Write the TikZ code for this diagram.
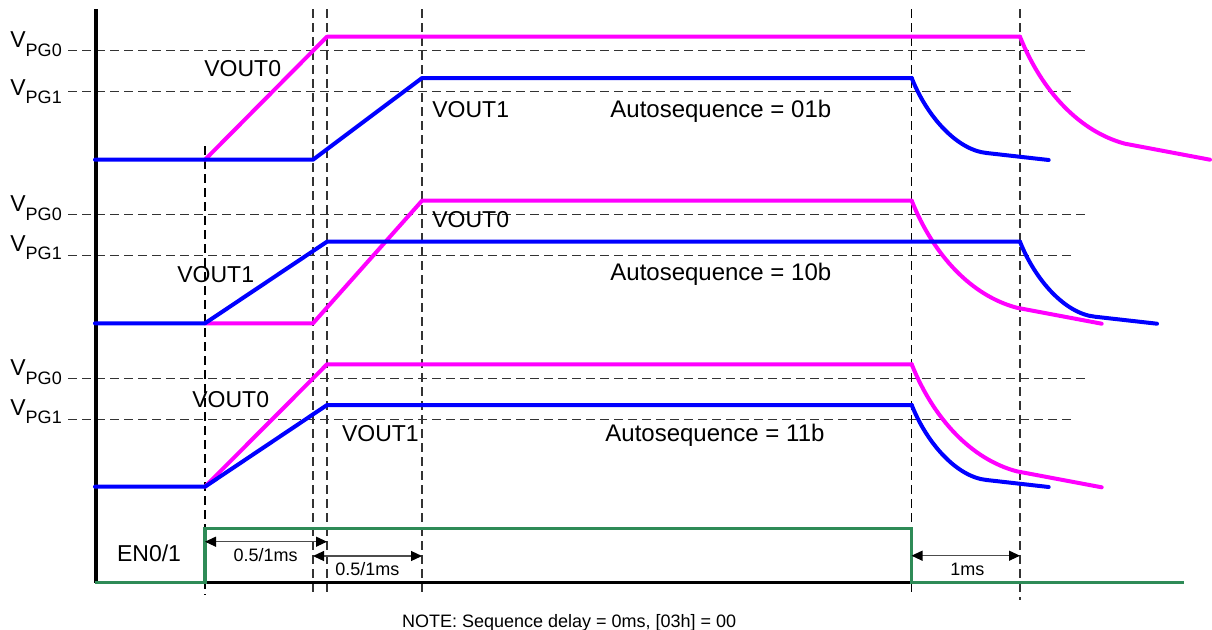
\documentclass[tikz,border=0pt]{standalone}
\usepackage{fontspec}
\setmainfont{Liberation Sans}
\usetikzlibrary{arrows.meta}
\definecolor{voutzero}{RGB}{255,0,255}
\definecolor{voutone}{RGB}{0,0,255}
\definecolor{engreen}{RGB}{46,139,87}
\newcommand{\vpg}[1]{V\raisebox{-4.2pt}{\fontsize{9}{10}\selectfont PG#1}}
\tikzset{
    seqlabel/.style={anchor=base west, inner sep=0pt, font=\fontsize{11.5}{13}\selectfont},
    seqmode/.style={anchor=base west, inner sep=0pt, font=\fontsize{12}{14}\selectfont},
    seqsmall/.style={anchor=base west, inner sep=0pt, font=\fontsize{9}{10}\selectfont},
    seqgrid/.style={black!80, line width=0.55pt, dash pattern=on 4.5pt off 2.5pt},
    seqmark/.style={black, line width=0.55pt, dash pattern=on 4.5pt off 2.5pt},
    traceA/.style={voutzero, line width=2pt, line join=round, line cap=round},
    traceB/.style={voutone, line width=2pt, line join=round, line cap=round},
    enline/.style={engreen, line width=1.6pt},
    dimarrow/.style={{Triangle[length=5.5pt,width=5pt,color=black]}-{Triangle[length=5.5pt,width=5pt,color=black]}, black!70, line width=0.6pt},
    longfall/.pic={\draw[pic actions] (0,0) .. controls (22,55) and (60,95) .. (105,107) -- (190,123);},
    shortfall/.pic={\draw[pic actions] (0,0) .. controls (15,38) and (45,72) .. (75,75) -- (137,82);}
}

\begin{document}
\begin{tikzpicture}[x=0.5pt, y=-0.5pt]
    \useasboundingbox (0,0) rectangle (1212,629);

    % power-good thresholds, one pair per panel
    \foreach \dy/\yb in {0/95, 164/251.5, 328/415} {
        \draw[seqgrid] (68,50.5+\dy) -- (1088,50.5+\dy);
        \draw[seqgrid] (68,91.3+\dy) -- (1075,91.3+\dy);
        \node[seqlabel] (pgzero-\dy) at (10,47.8+\dy) {\vpg{0}};
        \node[seqlabel] (pgone-\dy) at (10,\yb) {\vpg{1}};
    }

    % time marks
    \draw[seqmark] (205,146) -- (205,595);
    \foreach \t in {313,327,422}
        \draw[seqgrid] (\t,9) -- (\t,596);
    \draw[seqmark] (911.5,9) -- (911.5,596);
    \draw[seqgrid] (1020,9) -- (1020,600);

    \draw[line width=1.8pt] (95.7,9) -- (95.7,583);
    \draw[line width=1.6pt] (95,582.7) -- (911.5,582.7);

    % 01b
    \draw[traceA] (205,159.7) -- (327,36.7) -- (1020,36.7);
    \pic[traceA] at (1020,36.7) {longfall};
    \draw[traceB] (95,159.7) -- (313,159.7) -- (422,78) -- (911.7,78);
    \pic[traceB] at (911.7,78) {shortfall};

    % 10b
    \draw[traceA] (205,323.3) -- (313,323.3) -- (422,200.7) -- (911.7,200.7);
    \pic[traceA] at (911.7,200.7) {longfall};
    \draw[traceB] (95,323.3) -- (205,323.3) -- (327,241.7) -- (1020,241.7);
    \pic[traceB] at (1020,241.7) {shortfall};

    % 11b
    \draw[traceA] (205,486.7) -- (327,364.3) -- (911.7,364.3);
    \pic[traceA] at (911.7,364.3) {longfall};
    \draw[traceB] (95,486.7) -- (205,486.7) -- (327,405) -- (911.7,405);
    \pic[traceB] at (911.7,405) {shortfall};

    % enable
    \draw[enline] (95,582.7) -- (205,582.7) -- (205,528.3) -- (911.5,528.3) -- (911.5,582.7) -- (1184,582.7);

    \node[seqlabel] (voutzeroA) at (204,76) {VOUT0};
    \node[seqlabel] (voutoneA) at (432,117) {VOUT1};
    \node[seqmode] (modeA) at (610,117.3) {Autosequence = 01b};
    \node[seqlabel] (voutzeroB) at (432,227) {VOUT0};
    \node[seqlabel] (voutoneB) at (177,282) {VOUT1};
    \node[seqmode] (modeB) at (610,280) {Autosequence = 10b};
    \node[seqlabel] (voutzeroC) at (192,407) {VOUT0};
    \node[seqlabel] (voutoneC) at (341.7,441.7) {VOUT1};
    \node[seqmode] (modeC) at (605,441.7) {Autosequence = 11b};
    \node[seqlabel] (en) at (116.7,561.7) {EN0/1};

    % delays
    \coordinate (riseA) at (205,541.7);
    \coordinate (riseB) at (327,541.7);
    \coordinate (riseC) at (313,556);
    \coordinate (riseD) at (422,556);
    \coordinate (fallA) at (911.5,555.7);
    \coordinate (fallB) at (1020,555.7);
    \draw[dimarrow] (riseA) -- (riseB);
    \draw[dimarrow] (riseC) -- (riseD);
    \draw[dimarrow] (fallA) -- (fallB);
    \node[seqsmall] (delayA) at (233.3,561.7) {0.5/1ms};
    \node[seqsmall] (delayB) at (335,575) {0.5/1ms};
    \node[seqsmall] (delayC) at (950,575) {1ms};

    \node[seqsmall] (note) at (401.7,627.3) {NOTE: Sequence delay = 0ms, [03h] = 00};
\end{tikzpicture}
\end{document}
